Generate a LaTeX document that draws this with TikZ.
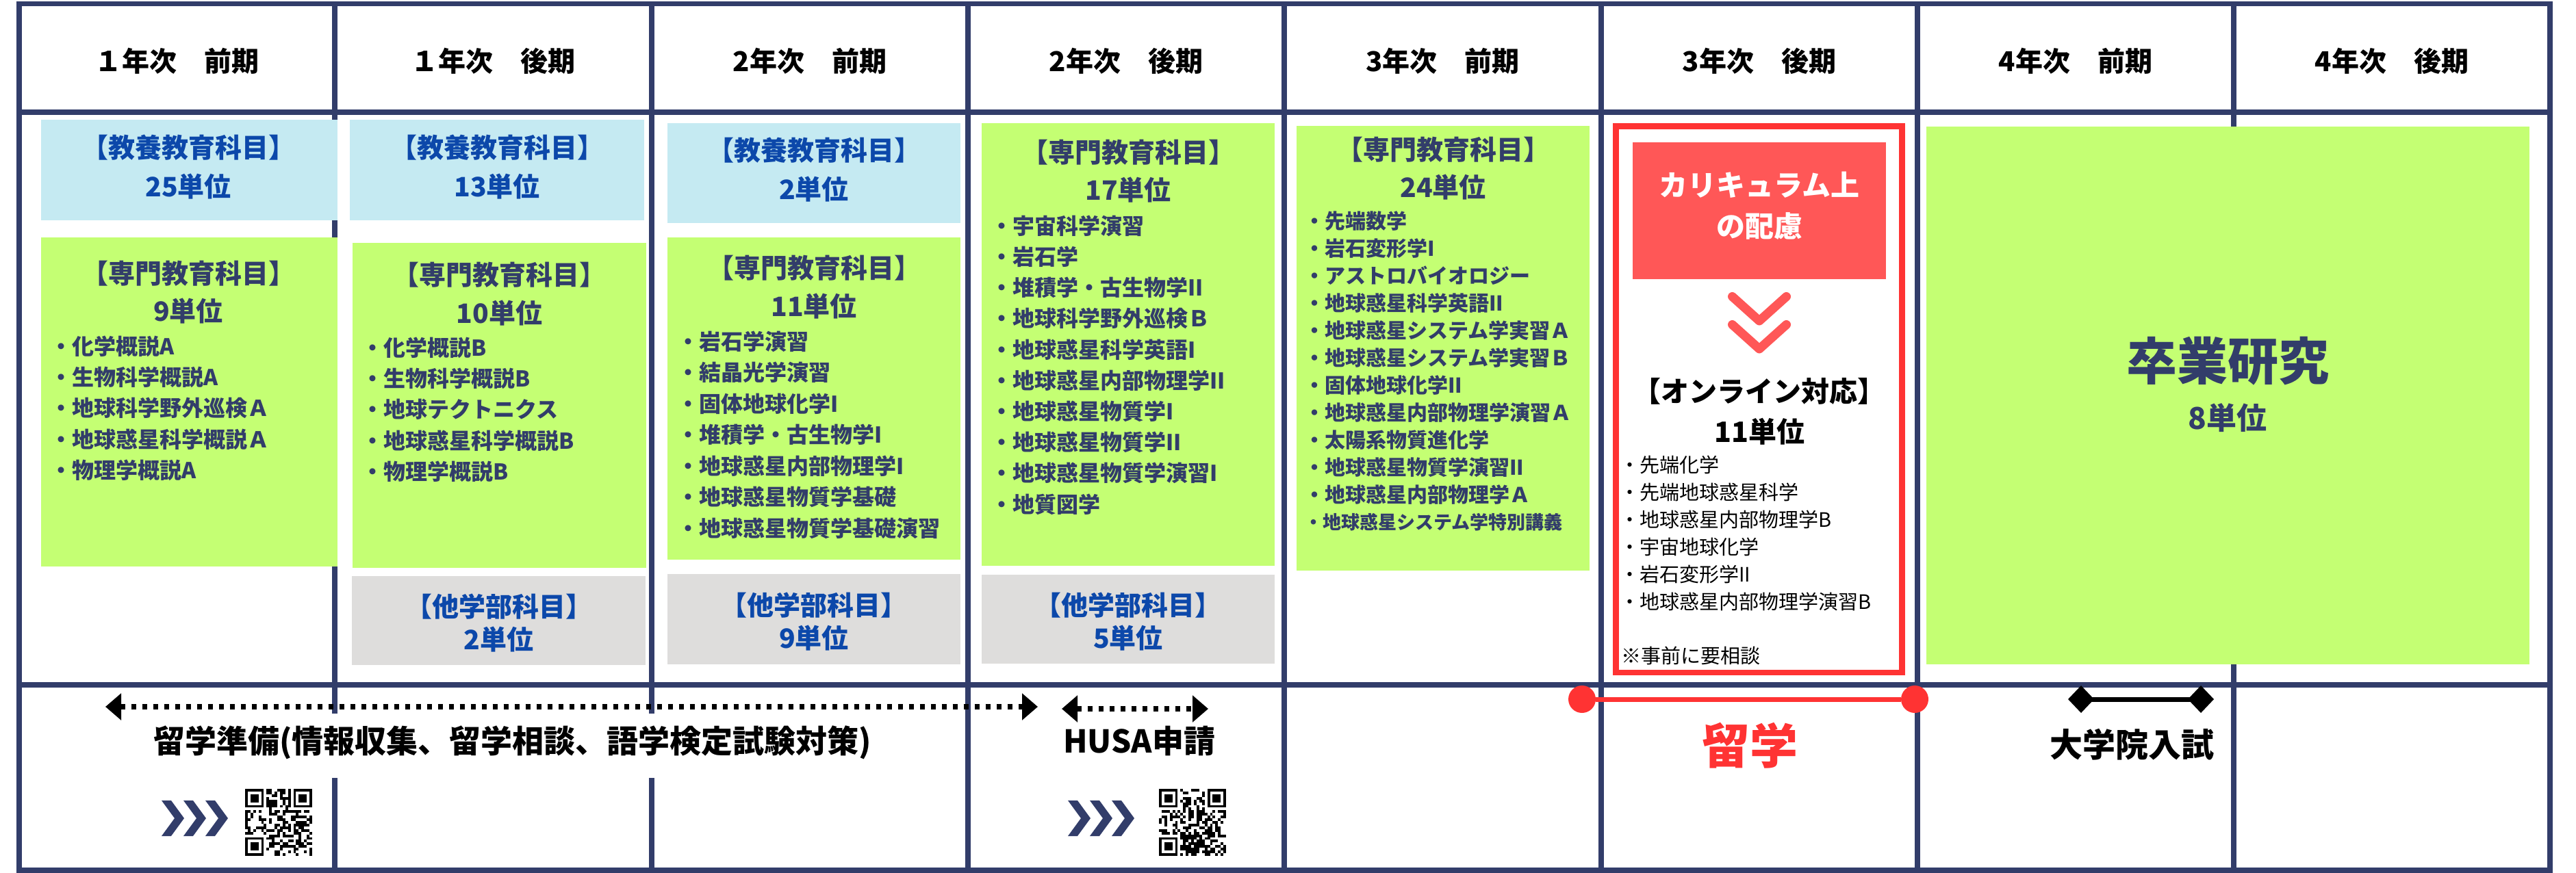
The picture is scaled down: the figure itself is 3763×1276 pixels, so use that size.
\documentclass[tikz,border=0pt]{standalone}
\usepackage{fontspec}
\setmainfont{Noto Sans CJK JP}
\usetikzlibrary{arrows.meta}
\definecolor{gridnavy}{RGB}{50,61,106}
\definecolor{lblue}{RGB}{197,234,242}
\definecolor{lgreen}{RGB}{196,255,115}
\definecolor{lgray}{RGB}{222,221,220}
\definecolor{tblue}{RGB}{12,72,170}
\definecolor{rred}{RGB}{255,51,51}
\definecolor{fred}{RGB}{255,87,87}
\tikzset{
 gridline/.style={draw=gridnavy, line width=7.5pt},
 bbox/.style={fill=lblue, anchor=north west, inner sep=0pt, outer sep=0pt},
 gbox/.style={fill=lgreen, anchor=north west, inner sep=0pt, outer sep=0pt},
 ybox/.style={fill=lgray, anchor=north west, inner sep=0pt, outer sep=0pt},
 hdr/.style={font=\bfseries\fontsize{40}{42}\selectfont, anchor=base, inner sep=0pt},
 ttlB/.style={font=\bfseries\fontsize{39}{41}\selectfont, anchor=base, inner sep=0pt, text=tblue},
 ttlN/.style={font=\bfseries\fontsize{39}{41}\selectfont, anchor=base, inner sep=0pt, text=gridnavy},
 itemN/.style={font=\bfseries\fontsize{#1}{#1}\selectfont, anchor=base west, inner sep=0pt, text=gridnavy},
 itemK/.style={font=\fontsize{29}{30}\selectfont, anchor=base west, inner sep=0pt, text=black},
 bigK/.style={font=\bfseries\fontsize{#1}{#1}\selectfont, anchor=base, inner sep=0pt, text=black},
 dotarrow/.style={line width=8pt, dash pattern=on 7pt off 9pt,
   {Triangle[length=23pt,width=38pt]}-{Triangle[length=23pt,width=38pt]}},
 reddot/.style={circle, fill=rred, minimum size=40pt, inner sep=0pt, outer sep=0pt},
}
\newcommand\myqr[3]{%
 \begin{scope}[shift={(#1,#2)}]
  \pgfmathsetseed{#3}
  \foreach \i in {0,...,24}{\foreach \j in {0,...,24}{%
    \pgfmathtruncatemacro\qb{rnd<0.5 ? 1 : 0}%
    \ifnum\qb=1 \fill[black] (\i*3.92,\j*3.92) rectangle ++(3.92,3.92);\fi}}
  \foreach \ox/\oy/\sx/\sy in {0/0/0/0,18/0/17/0,0/18/0/17}{%
    \fill[white] (\sx*3.92,\sy*3.92) rectangle ++(31.36,31.36);
    \fill[black] (\ox*3.92,\oy*3.92) rectangle ++(27.44,27.44);
    \fill[white] (\ox*3.92+3.92,\oy*3.92+3.92) rectangle ++(19.6,19.6);
    \fill[black] (\ox*3.92+7.84,\oy*3.92+7.84) rectangle ++(11.76,11.76);}
 \end{scope}}
\newcommand\mychev[2]{%
 \foreach \d in {0,32,64}{%
  \fill[gridnavy] (#1+\d,#2) -- ++(14,0) -- ++(19,26) -- ++(-19,26) -- ++(-14,0) -- ++(19,-26) -- cycle;}}
\begin{document}
\begin{tikzpicture}[x=1pt,y=-1pt]
\useasboundingbox (0,0) rectangle (3763,1276);
\fill[white] (0,0) rectangle (3763,1276);

% grid
\draw[gridline] (28,5.5) rectangle (3725,1272);
\foreach \x in {489,952,1414,1876,2339,2801,3263} \draw[gridline] (\x,5.5) -- (\x,1272);
\draw[gridline] (28,164) -- (3725,164);
\draw[gridline] (28,1001) -- (3725,1001);

% headers
\foreach \t/\cx [count=\k] in {１年次　前期/258.5,１年次　後期/720.5,2年次　前期/1183,2年次　後期/1645,3年次　前期/2107.5,3年次　後期/2570,4年次　前期/3032,4年次　後期/3494}
  \node[hdr] (h\k) at (\cx,104.2) {\t};

% boxes
\node[bbox, minimum width=433pt, minimum height=147pt] (blue1) at (60,175) {};
\node[bbox, minimum width=430pt, minimum height=147pt] (blue2) at (511,175) {};
\node[bbox, minimum width=428pt, minimum height=146pt] (blue3) at (975,180) {};
\node[gbox, minimum width=433pt, minimum height=481pt] (green1) at (60,347) {};
\node[gbox, minimum width=429pt, minimum height=475pt] (green2) at (515,355) {};
\node[gbox, minimum width=428pt, minimum height=471pt] (green3) at (975,347) {};
\node[gbox, minimum width=428pt, minimum height=647pt] (green4) at (1434,180) {};
\node[gbox, minimum width=428pt, minimum height=650pt] (green5) at (1894,184) {};
\node[gbox, minimum width=881pt, minimum height=786pt] (green7) at (2814,185) {};
\node[ybox, minimum width=429pt, minimum height=130pt] (gray2) at (514,842) {};
\node[ybox, minimum width=428pt, minimum height=132pt] (gray3) at (975,839) {};
\node[ybox, minimum width=428pt, minimum height=130pt] (gray4) at (1434,840) {};
\node[draw=rred, line width=8.5pt, minimum width=418pt, minimum height=798.5pt, inner sep=0pt] (redframe) at (2569.5,583.75) {};
\node[fill=fred, anchor=north west, minimum width=370pt, minimum height=200pt, inner sep=0pt] (redbox) at (2385,208) {};

% blue box texts
\node[ttlB] (b1t) at (275,230.8) {【教養教育科目】};
\node[ttlB] (b1u) at (275,287.3) {25単位};
\node[ttlB] (b2t) at (726,230.8) {【教養教育科目】};
\node[ttlB] (b2u) at (726,287.3) {13単位};
\node[ttlB] (b3t) at (1189,234.8) {【教養教育科目】};
\node[ttlB] (b3u) at (1189,291.8) {2単位};

% gray box texts
\node[ttlB] (y2t) at (728.5,901.8) {【他学部科目】};
\node[ttlB] (y2u) at (728.5,949.8) {2単位};
\node[ttlB] (y3t) at (1189,899.8) {【他学部科目】};
\node[ttlB] (y3u) at (1189,947.8) {9単位};
\node[ttlB] (y4t) at (1648,899.8) {【他学部科目】};
\node[ttlB] (y4u) at (1648,947.8) {5単位};

% green col 1
\node[ttlN] (g1t) at (275,414.8) {【専門教育科目】};
\node[ttlN] (g1u) at (275,469.8) {9単位};
\foreach \t [count=\k from 0] in {化学概説A,生物科学概説A,地球科学野外巡検Ａ,地球惑星科学概説Ａ,物理学概説A}
  \node[itemN=32] (g1i\k) at (73,518.2+45.3*\k) {・\t};

% green col 2
\node[ttlN] (g2t) at (729.5,416.8) {【専門教育科目】};
\node[ttlN] (g2u) at (729.5,472.8) {10単位};
\foreach \t [count=\k from 0] in {化学概説B,生物科学概説B,地球テクトニクス,地球惑星科学概説B,物理学概説B}
  \node[itemN=32] (g2i\k) at (528,520.2+45.3*\k) {・\t};

% green col 3
\node[ttlN] (g3t) at (1189,406.8) {【専門教育科目】};
\node[ttlN] (g3u) at (1189,462.8) {11単位};
\foreach \t [count=\k from 0] in {岩石学演習,結晶光学演習,固体地球化学I,堆積学・古生物学I,地球惑星内部物理学I,地球惑星物質学基礎,地球惑星物質学基礎演習}
  \node[itemN=32] (g3i\k) at (989,511.2+45.5*\k) {・\t};

% green col 4
\node[ttlN] (g4t) at (1648,237.3) {【専門教育科目】};
\node[ttlN] (g4u) at (1648,292.8) {17単位};
\foreach \t [count=\k from 0] in {宇宙科学演習,岩石学,堆積学・古生物学II,地球科学野外巡検Ｂ,地球惑星科学英語I,地球惑星内部物理学II,地球惑星物質学I,地球惑星物質学II,地球惑星物質学演習I,地質図学}
  \node[itemN=32] (g4i\k) at (1447,342.2+45.2*\k) {・\t};

% green col 5
\node[ttlN] (g5t) at (2108,233.8) {【専門教育科目】};
\node[ttlN] (g5u) at (2108,288.8) {24単位};
\foreach \t [count=\k from 0] in {先端数学,岩石変形学I,アストロバイオロジー,地球惑星科学英語II,地球惑星システム学実習Ａ,地球惑星システム学実習Ｂ,固体地球化学II,地球惑星内部物理学演習Ａ,太陽系物質進化学,地球惑星物質学演習II,地球惑星内部物理学Ａ}
  \node[itemN=30] (g5i\k) at (1905,334.4+40*\k) {・\t};
\node[itemN=27] (g5i11) at (1905,773.3) {・地球惑星システム学特別講義};

% column 6
\node[font=\bfseries\fontsize{42}{44}\selectfont, anchor=base, inner sep=0pt, text=white] (r6a) at (2570,286.5) {カリキュラム上};
\node[font=\bfseries\fontsize{42}{44}\selectfont, anchor=base, inner sep=0pt, text=white] (r6b) at (2570,346) {の配慮};
\draw[fred, line width=13pt, line cap=round, line join=round] (2530.5,433.5) -- (2570,469) -- (2609.5,433.5);
\draw[fred, line width=13pt, line cap=round, line join=round] (2530.5,474.5) -- (2570,510) -- (2609.5,474.5);
\node[bigK=41] (onl) at (2570,587.6) {【オンライン対応】};
\node[bigK=41] (onu) at (2570,646.6) {11単位};
\foreach \t [count=\k from 0] in {先端化学,先端地球惑星科学,地球惑星内部物理学B,宇宙地球化学,岩石変形学II,地球惑星内部物理学演習B}
  \node[itemK] (o\k) at (2366,690+40*\k) {・\t};
\node[itemK] (note) at (2368,969) {※事前に要相談};

% column 7-8
\node[font=\bfseries\fontsize{74}{76}\selectfont, anchor=base, inner sep=0pt, text=gridnavy] (sotsu) at (3254,555.1) {卒業研究};
\node[font=\bfseries\fontsize{44}{46}\selectfont, anchor=base, inner sep=0pt, text=gridnavy] (sotsuu) at (3254,627.7) {8単位};

% bottom row
\fill[white] (215,1043) rectangle (1282,1137);
\coordinate (pa) at (154,1033);
\coordinate (pb) at (1516,1033);
\draw[dotarrow] (pa) -- (pb);
\node[bigK=46] (prep) at (748.5,1100.5) {留学準備(情報収集、留学相談、語学検定試験対策)};
\coordinate (ha) at (1551,1036);
\coordinate (hb) at (1765,1036);
\draw[dotarrow] (ha) -- (hb);
\node[bigK=46] (husa) at (1664,1100.5) {HUSA申請};

\node[reddot] (r1) at (2311,1022) {};
\node[reddot] (r2) at (2797,1022) {};
\draw[rred, line width=7pt] (r1) -- (r2);
\node[font=\bfseries\fontsize{70}{72}\selectfont, anchor=base, inner sep=0pt, text=rred] (ryu) at (2556,1116.6) {留学};

\coordinate (da) at (3021,1022);
\coordinate (db) at (3234,1022);
\draw[line width=7pt, {Diamond[length=38pt,width=40pt]}-{Diamond[length=38pt,width=40pt]}] (da) -- (db);
\node[bigK=48] (nyushi) at (3114,1106.2) {大学院入試};

\mychev{236}{1170}
\myqr{358}{1153}{4242}
\mychev{1560}{1170}
\myqr{1693}{1153}{777}
\end{tikzpicture}
\end{document}
